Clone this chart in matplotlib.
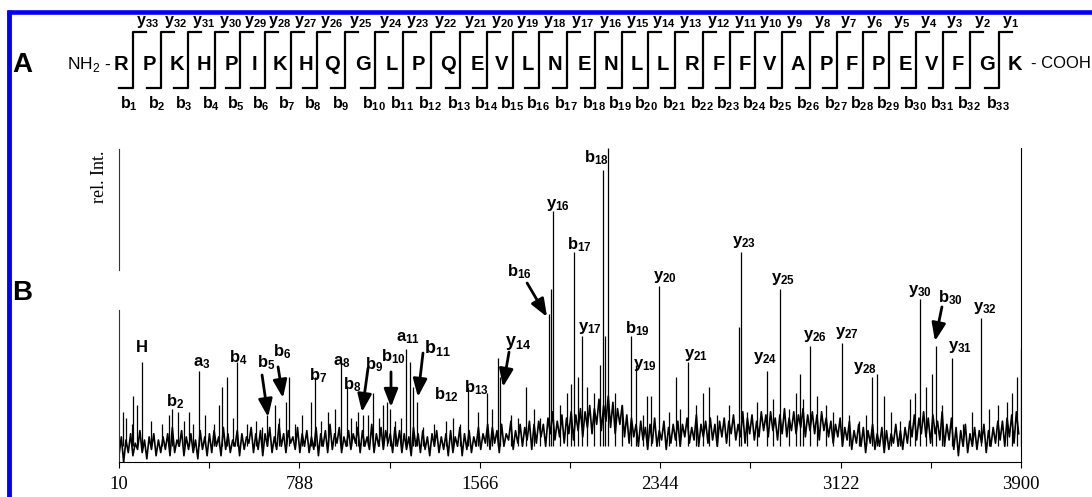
import numpy as np
import matplotlib
matplotlib.use("Agg")
import matplotlib.pyplot as plt

plt.rcParams['font.family'] = 'Liberation Sans'
plt.rcParams['mathtext.fontset'] = 'custom'
plt.rcParams['mathtext.rm'] = 'Liberation Sans'
plt.rcParams['mathtext.bf'] = 'Liberation Sans:bold'

# ---- panel A: peptide sequence ----
sequence = list("RPKHPIKHQGLPQEVLNENLLRFFVAPFPEVFGK")

# ---- panel B: spectrum (m/z, rel. intensity in %) ----
# noisy baseline trace, m/z 10..3890 in steps of 10
base_mz = np.arange(10, 3900, 10)
base_int = [2, 8, 0, 7, 3, 9, 2, 6, 4, 10, 3, 7, 1, 8, 4, 9, 2, 7, 3, 8,
            4, 9, 2, 11, 3, 7, 5, 10, 2, 8, 4, 9, 3, 7, 1, 10, 4, 8, 2, 9,
            3, 10, 5, 8, 2, 11, 4, 9, 3, 7, 5, 10, 2, 9, 4, 8, 6, 11, 3, 9,
            4, 10, 2, 9, 5, 11, 3, 8, 4, 12, 5, 9, 3, 10, 6, 8, 4, 11, 3, 9,
            5, 10, 3, 8, 4, 11, 2, 9, 5, 10, 3, 12, 4, 9, 6, 11, 3, 8, 5, 10,
            4, 9, 6, 11, 3, 10, 5, 8, 4, 12, 3, 9, 5, 11, 4, 10, 6, 9, 3, 11,
            5, 10, 3, 9, 4, 8, 2, 11, 5, 9, 3, 10, 4, 8, 2, 9, 5, 10, 3, 8,
            4, 9, 2, 10, 3, 8, 5, 11, 2, 9, 4, 10, 3, 8, 5, 11, 4, 9, 6, 12,
            4, 11, 6, 10, 3, 12, 5, 9, 7, 13, 4, 10, 6, 12, 5, 11, 7, 13, 4, 12,
            6, 13, 8, 12, 5, 14, 9, 16, 7, 13, 8, 15, 6, 14, 9, 16, 7, 15, 10, 17,
            8, 16, 11, 18, 9, 17, 12, 20, 10, 18, 13, 21, 11, 19, 9, 17, 12, 18, 8, 15,
            6, 14, 8, 12, 5, 13, 7, 11, 4, 12, 6, 14, 5, 10, 7, 13, 4, 11, 6, 12,
            7, 13, 5, 12, 8, 14, 6, 11, 7, 15, 5, 12, 8, 13, 6, 14, 7, 12, 5, 13,
            8, 14, 6, 13, 9, 15, 7, 12, 8, 16, 6, 14, 9, 15, 7, 13, 8, 16, 10, 15,
            8, 16, 10, 14, 7, 15, 9, 17, 8, 14, 10, 16, 9, 15, 11, 17, 8, 15, 10, 16,
            9, 15, 7, 16, 10, 14, 8, 13, 6, 12, 8, 14, 5, 11, 7, 13, 4, 10, 6, 12,
            5, 11, 3, 10, 6, 12, 4, 9, 5, 11, 3, 10, 4, 9, 6, 12, 5, 10, 4, 11,
            6, 13, 8, 15, 7, 14, 9, 16, 8, 14, 6, 15, 9, 13, 7, 16, 5, 12, 7, 14,
            4, 11, 2, 10, 5, 12, 3, 9, 5, 11, 4, 10, 6, 12, 3, 10, 5, 11, 6, 13,
            7, 13, 5, 14, 8, 15, 6, 16, 9]

# small unassigned spikes
minor_mz = [40, 65, 150, 195, 225, 240, 290, 310, 330, 380, 420, 440, 500, 560,
            600, 625, 700, 770, 800, 880, 910, 940, 1010, 1030, 1085, 1130, 1150,
            1200, 1225, 1320, 1370, 1420, 1450, 1480, 1560, 1620, 1700, 1730, 1800,
            1825, 1910, 1940, 1960, 2030, 2060, 2150, 2180, 2270, 2380, 2430, 2500,
            2530, 2590, 2640, 2720, 2760, 2830, 2900, 2930, 2960, 3020, 3060, 3090,
            3160, 3200, 3230, 3340, 3380, 3420, 3445, 3490, 3560, 3650, 3690, 3760,
            3800, 3840, 3860]
minor_int = [14, 12, 13, 12, 15, 17, 13, 16, 12, 15, 12, 18, 14, 12,
             13, 11, 14, 12, 15, 13, 16, 17, 14, 13, 15, 14, 18,
             13, 14, 11, 12, 13, 14, 12, 16, 17, 15, 14, 17,
             14, 18, 22, 25, 24, 22, 22, 18, 15, 16, 17, 18,
             22, 15, 18, 16, 19, 20, 17, 22, 20, 21, 18, 16,
             15, 13, 15, 16, 13, 20, 22, 24, 18, 12, 16, 17,
             18, 19, 22]

# main peaks
peak_mz = [27, 70, 86, 110, 266, 355, 453, 474, 519, 647, 683, 730, 744, 837,
           855, 966, 992, 1041, 1061, 1104, 1164, 1179, 1248, 1266, 1278, 1294,
           1516, 1598, 1646, 1653, 1764, 1864, 1871, 1880, 1973, 1990, 2005, 2084,
           2098, 2107, 2117, 2217, 2238, 2286, 2303, 2337, 2412, 2465, 2556, 2685,
           2691, 2803, 2861, 2946, 2990, 3127, 3256, 3280, 3309, 3464, 3516, 3533,
           3601, 3727, 3881, 3898]
peak_int = [16, 21, 18, 32, 16, 29, 24, 27, 32, 15, 18, 19, 27, 19,
            27, 32, 24, 16, 15, 22, 19, 17, 36, 32, 24, 19,
            24, 22, 33, 27, 24, 47, 55, 80, 67, 27, 40, 31,
            93, 40, 100, 40, 31, 21, 21, 56, 27, 32, 24, 43,
            67, 29, 55, 28, 37, 38, 27, 28, 21, 52, 28, 37,
            33, 46, 27, 36]

# fragment labels: text, m/z, intensity
ion_labels = ['H', 'b_{2}', 'a_{3}', 'b_{4}', 'b_{5}', 'b_{6}', 'b_{7}', 'a_{8}',
              'b_{8}', 'b_{9}', 'b_{10}', 'a_{11}', 'b_{11}', 'b_{12}', 'b_{13}',
              'y_{14}', 'b_{16}', 'y_{16}', 'b_{17}', 'y_{17}', 'b_{18}', 'b_{19}',
              'y_{19}', 'y_{20}', 'y_{21}', 'y_{23}', 'y_{24}', 'y_{25}', 'y_{26}',
              'y_{27}', 'y_{28}', 'y_{30}', 'b_{30}', 'y_{31}', 'y_{32}']
label_mz = [109, 252, 368, 523, 644, 713, 868, 972, 1015, 1110, 1192, 1256, 1381,
            1424, 1550, 1731, 1735, 1903, 1994, 2041, 2067, 2244, 2278, 2365, 2498,
            2705, 2796, 2874, 3012, 3150, 3227, 3464, 3594, 3637, 3745]
label_int = [36.6, 19.1, 31.5, 33.1, 31.5, 35.0, 27.4, 31.8, 24.5, 30.9, 33.4,
             39.5, 36.3, 21.3, 23.6, 37.9, 60.5, 81.8, 69.1, 42.7, 96.8, 42.4,
             30.9, 58.9, 34.1, 70.1, 33.1, 58.3, 40.1, 41.1, 29.9, 54.5, 52.2,
             36.6, 49.0]

# arrows: tail (m/z, int) -> head (m/z, int)
arrow_tail = [(627, 27.7), (696, 30.3), (1084, 29.9), (1183, 28.7), (1321, 34.7),
              (1692, 35.0), (1770, 57.0), (3559, 49.4)]
arrow_head = [(653, 14.3), (717, 20.4), (1058, 15.9), (1183, 17.5), (1299, 20.7),
              (1666, 23.9), (1856, 46.2), (3529, 38.5)]

tick_vals = [10, 399, 788, 1177, 1566, 1955, 2344, 2733, 3122, 3511, 3900]

W, H = 1092, 497
fig = plt.figure(figsize=(W / 100, H / 100), dpi=100)

# overlay in pixel coords for panel A and frame
ov = fig.add_axes([0, 0, 1, 1])
ov.set_xlim(0, W)
ov.set_ylim(H, 0)
ov.axis('off')

blue = '#0000ff'
ov.plot([9, 9], [10, H], color=blue, lw=3.5, solid_capstyle='butt')
ov.plot([7, W], [12, 12], color=blue, lw=3.3, solid_capstyle='butt')

ov.text(12, 65, 'A', fontsize=20, fontweight='bold', va='center', ha='left')
ov.text(12, 293, 'B', fontsize=20, fontweight='bold', va='center', ha='left')

res_x = [121, 149, 177, 204, 231, 254, 280, 306, 332, 363, 392, 418, 448, 477,
         502, 528, 555, 584, 611, 637, 663, 692, 719, 745, 770, 798, 826, 852,
         878, 905, 932, 958, 987, 1015]
for aa, x in zip(sequence, res_x):
    ov.text(x, 64, aa, fontsize=14.5, fontweight='bold', ha='center', va='center')
ov.text(111, 64, r'NH$_2$ -', fontsize=12.5, ha='right', va='center')
ov.text(1031, 64, '- COOH', fontsize=12, ha='left', va='center')

n = len(sequence)
for i in range(n - 1):
    v = (res_x[i] + res_x[i + 1]) / 2 - 2.5
    ov.plot([v - 14, v, v, v + 13], [88, 88, 32, 32], color='k', lw=1.6)
    ov.text(v + 4, 22, r'$\mathbf{y_{%d}}$' % (n - 1 - i), fontsize=11.5,
            ha='left', va='center')
    ov.text(v - 13, 104, r'$\mathbf{b_{%d}}$' % (i + 1), fontsize=11.5,
            ha='left', va='center')

# spectrum
ax = fig.add_axes([119 / W, (H - 462) / H, 902 / W, 314 / H])
ax.set_xlim(10, 3900)
ax.set_ylim(0, 100)
ax.patch.set_alpha(0)
ax.plot(base_mz, base_int, color='k', lw=1.2)
ax.vlines(minor_mz, 5, minor_int, color='k', lw=0.9)
ax.vlines(peak_mz, 5, peak_int, color='k', lw=0.9)

for lab, x, y in zip(ion_labels, label_mz, label_int):
    txt = lab if lab == 'H' else r'$\mathbf{%s}$' % lab
    fs = 13 if lab in ('b_{11}', 'y_{14}') else 12
    ax.text(x, y, txt, fontsize=fs, fontweight='bold', ha='center', va='center')

for t, h in zip(arrow_tail, arrow_head):
    ax.annotate('', xy=h, xytext=t,
                arrowprops=dict(arrowstyle='-|>,head_length=0.9,head_width=0.35',
                                color='k', lw=2, shrinkA=0, shrinkB=0,
                                mutation_scale=12))

ax.spines['top'].set_visible(False)
ax.spines['left'].set_visible(False)
ax.spines['right'].set_linewidth(0.8)
ax.spines['bottom'].set_linewidth(0.8)
ax.plot([10, 10], [0, 48.4], color='#333333', lw=0.8, clip_on=False)
ax.plot([10, 10], [61.1, 99.7], color='#333333', lw=0.8, clip_on=False)
ax.set_yticks([])
ax.set_xticks(tick_vals)
ax.set_xticklabels([str(v) if k % 2 == 0 else '' for k, v in enumerate(tick_vals)],
                   fontfamily='Liberation Serif', fontsize=13.5)
ax.tick_params(axis='x', length=4, width=0.8, pad=6)

fig.text(99 / W, 1 - 177 / H, 'rel. Int.', rotation=90, fontfamily='Liberation Serif',
         fontsize=13, ha='center', va='center')

fig.savefig('out.png', dpi=100)
